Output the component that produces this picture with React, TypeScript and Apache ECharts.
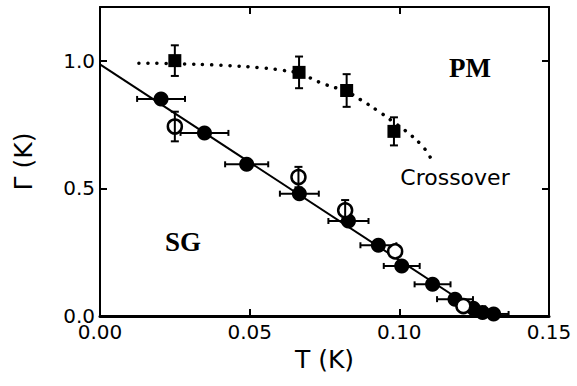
import React, { useEffect, useRef } from "react";
import * as echarts from "echarts";

// Spin-glass phase boundary: filled circles (with T error bars)
const T_FILLED = [0.0204, 0.0349, 0.049, 0.0666, 0.083, 0.093, 0.1008, 0.1111, 0.1186, 0.1247, 0.1278, 0.1315];
const G_FILLED = [0.85, 0.717, 0.594, 0.479, 0.372, 0.277, 0.196, 0.124, 0.066, 0.03, 0.014, 0.008];
const DT_FILLED = [0.008, 0.008, 0.0072, 0.0065, 0.0067, 0.006, 0.006, 0.006, 0.006, 0.004, 0.004, 0.005];

// Open circles (with Γ error bars where measured)
const T_OPEN = [0.025, 0.0663, 0.0819, 0.0986, 0.1214];
const G_OPEN = [0.742, 0.544, 0.414, 0.253, 0.039];
const DG_OPEN = [0.058, 0.04, 0.04, 0, 0];

// Crossover squares (with Γ error bars)
const T_SQ = [0.025, 0.0665, 0.0824, 0.0982];
const G_SQ = [1.0, 0.954, 0.883, 0.723];
const DG_SQ = [0.06, 0.062, 0.064, 0.055];

// Straight-line fit of the phase boundary
const T_FIT = [0, 0.1285];
const G_FIT = [0.985, 0];

// Dotted crossover guide
const T_CROSS = [0.013, 0.025, 0.04, 0.054, 0.061, 0.0665, 0.074, 0.0824, 0.0869, 0.093, 0.0982, 0.1019, 0.1075, 0.1103];
const G_CROSS = [0.99, 0.988, 0.982, 0.972, 0.962, 0.95, 0.912, 0.878, 0.848, 0.802, 0.758, 0.727, 0.668, 0.622];

const X_TICKS = [0, 0.05, 0.1, 0.15];
const Y_TICKS = [0, 0.5, 1.0];

const FONT = "DejaVu Sans";

const zip = (a: number[], b: number[], c?: number[]) =>
  a.map((v, i) => (c ? [v, b[i], c[i]] : [v, b[i]]));

const barStyle = { stroke: "#000", lineWidth: 2 };

function xErrorBars(params: any, api: any) {
  const x = api.value(0);
  const y = api.value(1);
  const e = api.value(2);
  if (!e) return null;
  const a = api.coord([x - e, y]);
  const b = api.coord([x + e, y]);
  const cap = 3;
  return {
    type: "group",
    children: [
      { type: "line", shape: { x1: a[0], y1: a[1], x2: b[0], y2: b[1] }, style: barStyle },
      { type: "line", shape: { x1: a[0], y1: a[1] - cap, x2: a[0], y2: a[1] + cap }, style: barStyle },
      { type: "line", shape: { x1: b[0], y1: b[1] - cap, x2: b[0], y2: b[1] + cap }, style: barStyle },
    ],
  };
}

function yErrorBars(params: any, api: any) {
  const x = api.value(0);
  const y = api.value(1);
  const e = api.value(2);
  if (!e) return null;
  const a = api.coord([x, y - e]);
  const b = api.coord([x, y + e]);
  const cap = 4;
  return {
    type: "group",
    children: [
      { type: "line", shape: { x1: a[0], y1: a[1], x2: b[0], y2: b[1] }, style: barStyle },
      { type: "line", shape: { x1: a[0] - cap, y1: a[1], x2: a[0] + cap, y2: a[1] }, style: barStyle },
      { type: "line", shape: { x1: b[0] - cap, y1: b[1], x2: b[0] + cap, y2: b[1] }, style: barStyle },
    ],
  };
}

export default function App() {
  const ref = useRef<HTMLDivElement>(null);

  useEffect(() => {
    if (!ref.current) return;
    const chart = echarts.init(ref.current, undefined, { renderer: "svg" });

    const axisLine = { show: true, onZero: false, lineStyle: { color: "#000", width: 2 } };
    const tickStyle = { inside: true, length: 7, lineStyle: { color: "#000", width: 2 } };

    chart.setOption({
      animation: false,
      backgroundColor: "#fff",
      grid: { left: 100, right: 28, top: 7, bottom: 70, containLabel: false },
      xAxis: [
        {
          type: "value",
          min: 0,
          max: 0.15,
          interval: 0.05,
          position: "bottom",
          name: "T (K)",
          nameLocation: "middle",
          nameGap: 29,
          nameTextStyle: { fontFamily: FONT, fontSize: 25, color: "#000" },
          axisLine: { show: true, onZero: false, lineStyle: { color: "#000", width: 3 } },
          axisTick: { ...tickStyle, customValues: [0.05, 0.1] },
          axisLabel: {
            customValues: X_TICKS,
            formatter: (v: number) => v.toFixed(2),
            fontFamily: FONT,
            fontSize: 20,
            lineHeight: 14,
            color: "#000",
            margin: 9,
          },
          splitLine: { show: false },
        },
        {
          type: "value",
          min: 0,
          max: 0.15,
          interval: 0.05,
          position: "top",
          axisLine,
          axisTick: { ...tickStyle, customValues: [0.05, 0.1] },
          axisLabel: { show: false },
          splitLine: { show: false },
        },
      ],
      yAxis: [
        {
          type: "value",
          min: 0,
          max: 1.21,
          interval: 0.5,
          position: "left",
          name: "Γ (K)",
          nameLocation: "middle",
          nameGap: 64,
          nameTextStyle: { fontFamily: FONT, fontSize: 25, color: "#000" },
          axisLine,
          axisTick: { ...tickStyle, customValues: [0.5, 1.0] },
          axisLabel: {
            customValues: Y_TICKS,
            formatter: (v: number) => v.toFixed(1),
            fontFamily: FONT,
            fontSize: 20,
            lineHeight: 14,
            color: "#000",
            margin: 5,
          },
          splitLine: { show: false },
        },
        {
          type: "value",
          min: 0,
          max: 1.21,
          interval: 0.5,
          position: "right",
          axisLine,
          axisTick: { ...tickStyle, customValues: [0.5, 1.0] },
          axisLabel: { show: false },
          splitLine: { show: false },
        },
      ],
      graphic: [
        {
          type: "text",
          x: 470,
          y: 68,
          style: {
            text: "PM",
            font: "bold 27px 'Liberation Serif'",
            fill: "#000",
            align: "center",
            verticalAlign: "middle",
          },
        },
        {
          type: "text",
          x: 183,
          y: 242,
          style: {
            text: "SG",
            font: "bold 27px 'Liberation Serif'",
            fill: "#000",
            align: "center",
            verticalAlign: "middle",
          },
        },
        {
          type: "text",
          x: 455,
          y: 177,
          style: {
            text: "Crossover",
            font: `22px '${FONT}'`,
            fill: "#000",
            align: "center",
            verticalAlign: "middle",
          },
        },
      ],
      series: [
        {
          type: "line",
          data: zip(T_FIT, G_FIT),
          symbol: "none",
          lineStyle: { color: "#000", width: 2 },
          z: 1,
        },
        {
          type: "line",
          data: zip(T_CROSS, G_CROSS),
          symbol: "none",
          smooth: true,
          lineStyle: { color: "#000", width: 3.5, type: [0.1, 9], cap: "round" },
          z: 1,
        },
        {
          type: "custom",
          data: zip(T_FILLED, G_FILLED, DT_FILLED),
          renderItem: xErrorBars,
          z: 2,
        },
        {
          type: "custom",
          data: zip(T_SQ, G_SQ, DG_SQ),
          renderItem: yErrorBars,
          z: 2,
        },
        {
          type: "scatter",
          data: zip(T_FILLED, G_FILLED),
          symbol: "circle",
          symbolSize: 15,
          itemStyle: { color: "#000", opacity: 1 },
          z: 3,
        },
        {
          type: "scatter",
          data: zip(T_SQ, G_SQ),
          symbol: "rect",
          symbolSize: 13,
          itemStyle: { color: "#000", opacity: 1 },
          z: 3,
        },
        {
          type: "scatter",
          data: zip(T_OPEN, G_OPEN),
          symbol: "circle",
          symbolSize: 14,
          itemStyle: { color: "#fff", borderColor: "#000", borderWidth: 2.5, opacity: 1 },
          z: 4,
        },
        {
          type: "custom",
          data: zip(T_OPEN, G_OPEN, DG_OPEN),
          renderItem: yErrorBars,
          z: 5,
        },
      ],
    });

    return () => chart.dispose();
  }, []);

  return (
    <div
      ref={ref}
      style={{ position: "fixed", left: 0, top: 0, width: 577, height: 386 }}
    />
  );
}
